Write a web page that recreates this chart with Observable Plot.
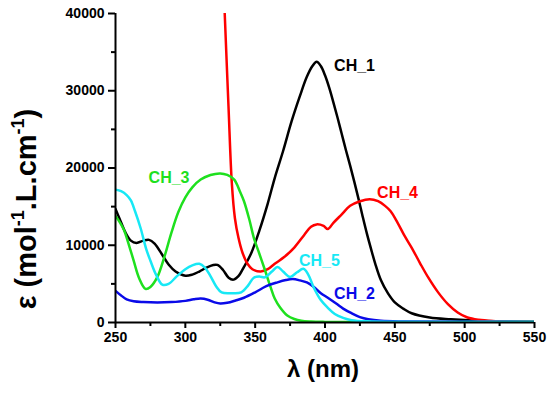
<!DOCTYPE html>
<html><head><meta charset="utf-8">
<script src="https://cdn.jsdelivr.net/npm/d3@7"></script>
<script src="https://cdn.jsdelivr.net/npm/@observablehq/plot@0.6"></script>
<style>
body{margin:0;background:#fff;}
#chart{width:550px;height:393px;}
svg{font-family:"Liberation Sans",Arial,sans-serif;}
</style>
</head><body><div id="chart"></div>
<script>
// Series names and colours
const seriesNames = ["CH_1", "CH_4", "CH_3", "CH_2", "CH_5"];
const seriesColors = ["#000000", "#ff0000", "#1ee01e", "#0a0ae8", "#17e8f5"];

// Wavelengths (nm) and molar absorptivity values per series
const ch1_wl  = [250,253,257,261,265,270,274,278,283,288,293,300,305,310,315,320,323,327,331,334.5,338,342,347,353,359,364,370,376,382,387,391,394,397,400,403,406,409,412,415,418,421,424,427,430,433,436,440,445,450,456,462,475,490,510,530,550];
const ch1_eps = [14700,13400,11700,10600,10300,10600,10700,10200,8900,7500,6600,6050,6200,6600,7100,7450,7450,6800,5800,5550,6000,7200,8900,11900,15400,18700,22200,26000,29300,31800,33200,33750,33200,32000,30400,28500,26500,24400,22300,20300,18200,16000,13700,11500,9500,7600,5500,3800,2600,1800,1200,650,420,230,150,100];

const ch4_wl  = [327.6,328.2,330.9,333.3,335.5,338,341,344.5,348,354,359,364,371,378,385,390,394,399,402,406,412,418,425,432,438,443,447,452,457,462,468,474,481,488,495,502,510,520,535,550];
const ch4_eps = [43000,40000,28000,18000,13500,11000,9000,7600,6900,6600,6900,7600,8500,9700,11300,12400,12700,12500,12100,12900,14000,15100,15700,15970,15700,15100,14400,12900,11200,9700,7700,5800,3900,2380,1300,650,350,200,130,100];

const ch3_wl  = [250,253,256,260,263,267,271.5,275,280,285,290,295,300,305,311,318,325,330,335,339,342,346,349,353,357,361,364,368,373,378,383,390,400,550];
const ch3_eps = [13800,13000,12000,9800,8000,5700,4350,4600,5900,8500,11600,14300,16200,17500,18500,19100,19300,19100,18500,17000,15700,13200,11000,8900,6800,4600,3100,1900,900,450,220,120,80,50];

const ch2_wl  = [250,254,258,263,270,280,290,300,306,311,316,321,325,330,336,342,350,358,366,372,377,382,387,392,397,402,408,413,419,425,431,440,455,550];
const ch2_eps = [4100,3500,3000,2750,2650,2600,2650,2800,3000,3100,2950,2600,2450,2550,2850,3200,3900,4700,5200,5500,5620,5450,5180,4600,3800,3200,2450,1800,1200,700,420,220,130,80];

const ch5_wl  = [250,254,258,261,264,268,272,275,279,283.5,288,294,300,305,310,314,318,322,326,333,340,345,349,353,357,362,366,370,375,380,384.5,388,392,397,402,407,413,419,430,550];
const ch5_eps = [17200,17000,16500,15800,14400,12200,9500,8000,6200,4900,5000,6000,6900,7400,7600,7100,6000,4700,3900,3800,3900,4800,5800,5950,5850,6600,7200,6600,5900,6500,6950,6200,4500,2900,1900,1100,600,300,150,100];

// Tick values
const xMajorTicks = [250,300,350,400,450,500,550];
const xMinorTicks = [275,325,375,425,475,525];
const yMajorTicks = [0,10000,20000,30000,40000];
const yMinorTicks = [5000,15000,25000,35000];

// Curve labels (anchored in data units)
const labelText = ["CH_1","CH_4","CH_3","CH_5","CH_2"];
const labelWl   = [406.5,437.3,273.7,381.3,406.5];
const labelEps  = [33220,16760,18720,7980,3710];

const seriesData = {
  "CH_1": [ch1_wl, ch1_eps],
  "CH_4": [ch4_wl, ch4_eps],
  "CH_3": [ch3_wl, ch3_eps],
  "CH_2": [ch2_wl, ch2_eps],
  "CH_5": [ch5_wl, ch5_eps]
};
const table = [];
for (const name of seriesNames) {
  const [wl, eps] = seriesData[name];
  wl.forEach((w, i) => table.push({name, wl: w, eps: eps[i]}));
}
const labels = labelText.map((t, i) => ({text: t, wl: labelWl[i], eps: labelEps[i]}));

const fontFam = "'Liberation Sans', Arial, sans-serif";

const chart = Plot.plot({
  width: 550,
  height: 393,
  marginLeft: 115,
  marginRight: 16,
  marginTop: 13,
  marginBottom: 71,
  style: {fontFamily: fontFam, background: "#fff", overflow: "visible"},
  x: {domain: [250, 550]},
  y: {domain: [0, 40000]},
  color: {domain: seriesNames, range: seriesColors},
  marks: [
    Plot.line(table, {x: "wl", y: "eps", z: "name", stroke: "name", curve: "catmull-rom", strokeWidth: 2.5, clip: true}),
    Plot.text(labels, {x: "wl", y: "eps", text: "text", fill: d => d.text, textAnchor: "start", fontSize: 16, fontWeight: "bold"}),
    Plot.ruleY([0], {stroke: "#000", strokeWidth: 2}),
    Plot.ruleX([250], {stroke: "#000", strokeWidth: 2}),
    Plot.axisX(xMajorTicks, {tickSize: 6, tickPadding: 4, fontSize: 14, fontWeight: "bold", strokeWidth: 2, label: null, tickFormat: d => String(d), fill: "#000"}),
    Plot.axisX(xMinorTicks, {tickSize: 4, strokeWidth: 2, label: null, tickFormat: () => ""}),
    Plot.axisY(yMajorTicks, {tickSize: 7, tickPadding: 4, fontSize: 14, fontWeight: "bold", strokeWidth: 2, label: null, tickFormat: d => String(d), fill: "#000"}),
    Plot.axisY(yMinorTicks, {tickSize: 4, strokeWidth: 2, label: null, tickFormat: () => ""})
  ]
});
document.getElementById("chart").appendChild(chart);

// Axis titles (with superscripts)
const svg = d3.select(chart);
svg.append("text")
  .attr("x", 323).attr("y", 377)
  .attr("text-anchor", "middle")
  .attr("font-family", fontFam)
  .attr("font-size", 24).attr("font-weight", "bold").attr("fill", "#000")
  .text("λ (nm)");

const yt = svg.append("text")
  .attr("transform", "translate(36,209) rotate(-90)")
  .attr("text-anchor", "middle")
  .attr("font-family", fontFam)
  .attr("font-size", 29).attr("font-weight", "bold").attr("fill", "#000");
yt.append("tspan").text("ε (mol");
yt.append("tspan").attr("font-size", 18).attr("dy", -12).text("-1");
yt.append("tspan").attr("dy", 12).text(".L.cm");
yt.append("tspan").attr("font-size", 18).attr("dy", -12).text("-1");
yt.append("tspan").attr("dy", 12).text(")");
</script>
</body></html>
